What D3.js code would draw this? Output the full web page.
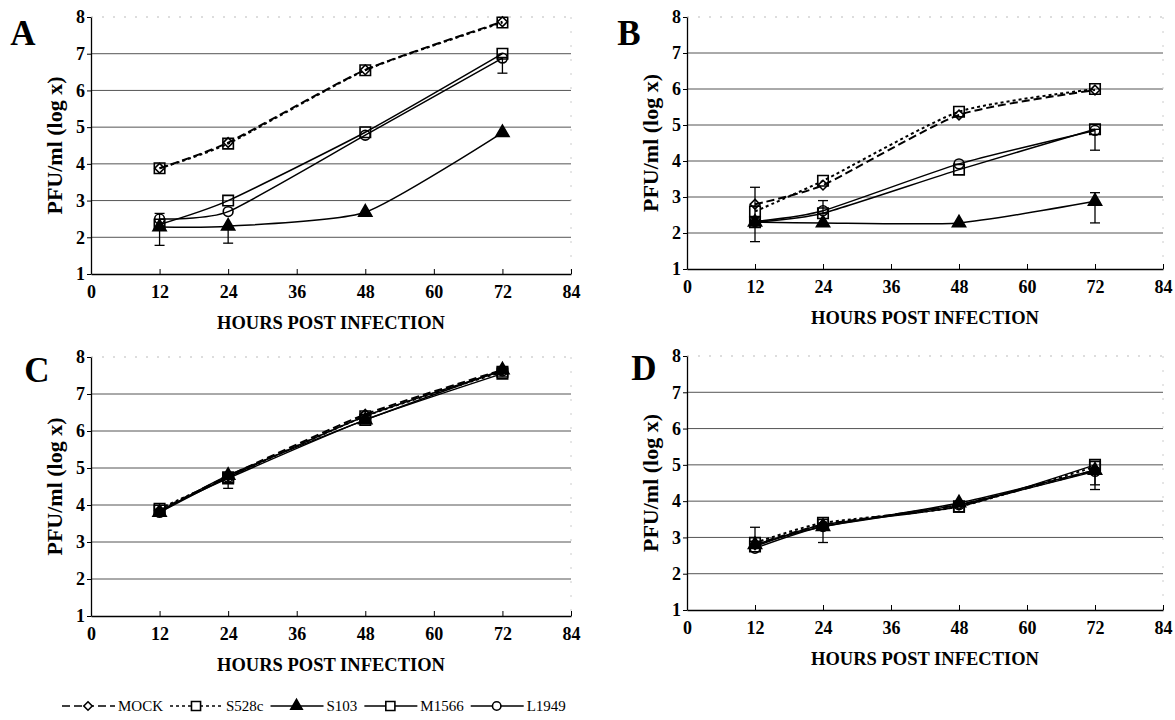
<!DOCTYPE html>
<html>
<head>
<meta charset="utf-8">
<script src="https://cdnjs.cloudflare.com/ajax/libs/d3/7.8.5/d3.min.js"></script>
<style>
  body { margin: 0; background: #fff; }
  svg { display: block; }
  text { font-family: "Liberation Serif", "Times New Roman", serif; }
</style>
</head>
<body>
<svg id="chart" width="1175" height="720"></svg>
<script>
// ---------------- data ----------------
const hours = [12, 24, 48, 72];
const seriesNames = ["MOCK", "S528c", "S103", "M1566", "L1949"];
const xTicks = [0, 12, 24, 36, 48, 60, 72, 84];
const yTicks = [1, 2, 3, 4, 5, 6, 7, 8];
const panelLetters = ["A", "B", "C", "D"];

// values per series (order of seriesNames), at 12, 24, 48, 72 h
const valuesA = [
  [3.88, 4.58, 6.56, 7.87],
  [3.88, 4.55, 6.55, 7.85],
  [2.28, 2.3, 2.68, 4.85],
  [2.35, 3.0, 4.86, 7.0],
  [2.5, 2.7, 4.78, 6.88]
];
const valuesB = [
  [2.8, 3.33, 5.28, 5.97],
  [2.6, 3.45, 5.37, 6.0],
  [2.3, 2.28, 2.28, 2.88],
  [2.3, 2.55, 3.76, 4.88],
  [2.32, 2.62, 3.92, 4.85]
];
const valuesC = [
  [3.85, 4.78, 6.45, 7.65],
  [3.9, 4.75, 6.4, 7.6],
  [3.8, 4.8, 6.3, 7.65],
  [3.85, 4.72, 6.3, 7.55],
  [3.8, 4.75, 6.4, 7.62]
];
const valuesD = [
  [2.8, 3.35, 3.9, 4.85],
  [2.85, 3.4, 3.85, 4.95],
  [2.8, 3.3, 3.95, 4.85],
  [2.75, 3.35, 3.85, 5.0],
  [2.7, 3.3, 3.9, 4.82]
];

// error bars: [series index, hour, low, high]
const errorsA = [
  [2, 12, 1.78, 2.65],
  [2, 24, 1.84, 2.3],
  [4, 72, 6.47, 6.9]
];
const errorsB = [
  [1, 12, 1.76, 3.27],
  [3, 24, 2.55, 2.9],
  [3, 72, 4.3, 4.88],
  [2, 72, 2.28, 3.12]
];
const errorsC = [
  [3, 24, 4.45, 4.72]
];
const errorsD = [
  [0, 12, 2.8, 3.28],
  [3, 24, 2.86, 3.35],
  [4, 72, 4.32, 4.82],
  [2, 72, 4.45, 4.85]
];

// ---------------- layout ----------------
const svg = d3.select("#chart");
svg.append("rect").attr("width", 1175).attr("height", 720).attr("fill", "#fff");

const panels = [
  { values: valuesA, errors: errorsA, left: 91, right: 571, top: 17, bottom: 274, lx: 23, ly: 45 },
  { values: valuesB, errors: errorsB, left: 687, right: 1163, top: 17, bottom: 269, lx: 629, ly: 45 },
  { values: valuesC, errors: errorsC, left: 91, right: 571, top: 357, bottom: 616, lx: 37, ly: 382 },
  { values: valuesD, errors: errorsD, left: 687, right: 1163, top: 356, bottom: 610, lx: 644, ly: 380 }
];

// line + marker style per series
const styles = [
  { dash: "8,4", width: 2, symbol: d3.symbolDiamond2, size: 60, fill: "none" },
  { dash: "3,3", width: 2, symbol: d3.symbolSquare, size: 110, fill: "none" },
  { dash: null, width: 1.5, symbol: d3.symbolTriangle, size: 75, fill: "#000" },
  { dash: null, width: 1.5, symbol: d3.symbolSquare, size: 110, fill: "none" },
  { dash: null, width: 1.5, symbol: d3.symbolCircle, size: 75, fill: "none" }
];

panels.forEach((p, pi) => {
  const x = d3.scaleLinear().domain([0, 84]).range([p.left, p.right]);
  const y = d3.scaleLinear().domain([1, 8]).range([p.bottom, p.top]);
  const g = svg.append("g");

  // gridlines
  g.selectAll(".grid")
    .data(yTicks.filter(v => v > 1 && v < 8))
    .enter().append("line")
    .attr("x1", p.left).attr("x2", p.right)
    .attr("y1", d => y(d)).attr("y2", d => y(d))
    .attr("stroke", "#555").attr("stroke-width", 1);
  // faint top and right border
  g.append("line")
    .attr("x1", p.left).attr("x2", p.right).attr("y1", y(8)).attr("y2", y(8))
    .attr("stroke", "#bbb").attr("stroke-dasharray", "2,9");
  g.append("line")
    .attr("x1", p.right).attr("x2", p.right).attr("y1", y(8)).attr("y2", y(1))
    .attr("stroke", "#ccc").attr("stroke-dasharray", "2,12");

  // axes
  const xAxis = g.append("g")
    .attr("transform", `translate(0,${p.bottom})`)
    .call(d3.axisBottom(x).tickValues(xTicks).tickFormat(d3.format("d"))
      .tickSizeInner(-5).tickSizeOuter(0).tickPadding(11));
  const yAxis = g.append("g")
    .attr("transform", `translate(${p.left},0)`)
    .call(d3.axisLeft(y).tickValues(yTicks).tickFormat(d3.format("d"))
      .tickSizeInner(4).tickSizeOuter(0).tickPadding(2));
  [xAxis, yAxis].forEach(a => {
    a.select(".domain").attr("stroke", "#000").attr("stroke-width", 1.3);
    a.selectAll(".tick line").attr("stroke", "#000");
    a.selectAll("text")
      .attr("font-family", "'Liberation Serif', serif")
      .attr("font-weight", "bold")
      .attr("font-size", 18)
      .attr("fill", "#000");
  });

  // axis titles
  g.append("text")
    .attr("x", (p.left + p.right) / 2).attr("y", p.bottom + 55)
    .attr("text-anchor", "middle")
    .attr("font-weight", "bold").attr("font-size", 18.5)
    .text("HOURS POST INFECTION");
  g.append("text")
    .attr("transform", `translate(${p.left - 29},${(p.top + p.bottom) / 2}) rotate(-90)`)
    .attr("text-anchor", "middle")
    .attr("font-weight", "bold").attr("font-size", 22)
    .text("PFU/ml (log x)");

  // panel letter
  g.append("text")
    .attr("x", p.lx).attr("y", p.ly)
    .attr("text-anchor", "middle")
    .attr("font-weight", "bold").attr("font-size", 35)
    .text(panelLetters[pi]);

  // lines (lightly smoothed, as in the original spreadsheet chart)
  const line = d3.line()
    .x((d, i) => x(hours[i]))
    .y(d => y(d))
    .curve(d3.curveCardinal.tension(0.4));

  p.values.forEach((vals, si) => {
    const st = styles[si];
    g.append("path")
      .attr("d", line(vals))
      .attr("fill", "none")
      .attr("stroke", "#000")
      .attr("stroke-width", st.width)
      .attr("stroke-dasharray", st.dash);
  });

  // error bars
  p.errors.forEach(([si, h, lo, hi]) => {
    const cx = x(h);
    g.append("line").attr("x1", cx).attr("x2", cx).attr("y1", y(lo)).attr("y2", y(hi))
      .attr("stroke", "#000").attr("stroke-width", 1.3);
    [lo, hi].forEach(v => {
      g.append("line").attr("x1", cx - 5).attr("x2", cx + 5).attr("y1", y(v)).attr("y2", y(v))
        .attr("stroke", "#000").attr("stroke-width", 1.3);
    });
  });

  // markers
  p.values.forEach((vals, si) => {
    const st = styles[si];
    g.selectAll(".m" + si)
      .data(vals)
      .enter().append("path")
      .attr("transform", (d, i) => `translate(${x(hours[i])},${y(d)})`)
      .attr("d", d3.symbol().type(st.symbol).size(st.size))
      .attr("fill", st.fill)
      .attr("stroke", "#000")
      .attr("stroke-width", 1.6);
  });
});

// ---------------- legend ----------------
const legend = svg.append("g");
let lx = 62;
const ly = 706;
seriesNames.forEach((name, si) => {
  const st = styles[si];
  legend.append("line")
    .attr("x1", lx).attr("x2", lx + 53).attr("y1", ly).attr("y2", ly)
    .attr("stroke", "#000").attr("stroke-width", 1.5)
    .attr("stroke-dasharray", st.dash);
  legend.append("path")
    .attr("transform", `translate(${lx + 26},${ly})`)
    .attr("d", d3.symbol().type(st.symbol).size(st.size * 0.75))
    .attr("fill", st.fill === "none" ? "#fff" : st.fill)
    .attr("stroke", "#000").attr("stroke-width", 1.6);
  const t = legend.append("text")
    .attr("x", lx + 56).attr("y", ly + 5)
    .attr("font-size", 15)
    .text(name);
  lx += 56 + t.node().getComputedTextLength() + 7;
});
</script>
</body>
</html>
